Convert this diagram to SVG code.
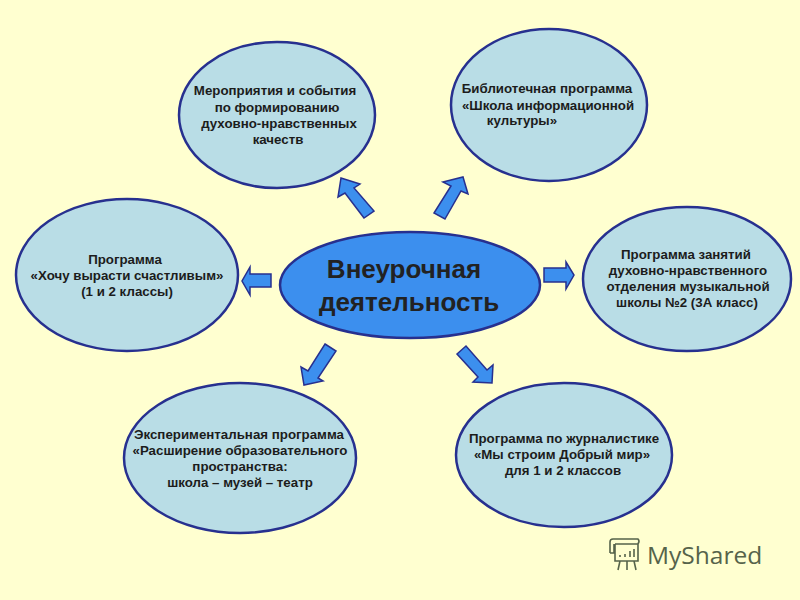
<svg xmlns="http://www.w3.org/2000/svg" width="800" height="600" viewBox="0 0 800 600">
<style>
.n{fill:#b9dde6;stroke:#27308f;stroke-width:2.5}
.c{fill:#3c8fee;stroke:#27308f;stroke-width:2.5}
.a{fill:#3c8fee;stroke:#27308f;stroke-width:1.5;stroke-linejoin:miter}
text{font-family:"Liberation Sans",Arial,sans-serif;font-weight:bold;font-size:13.3px;fill:#1c1c1c;text-anchor:middle}
.t{font-size:26px;fill:#222}
.w{font-family:"Open Sans","Noto Sans",sans-serif;font-weight:normal;font-size:24.5px;fill:#56634a;text-anchor:start}
.l{fill:none;stroke:#56634a;stroke-width:1.6}
</style>
<rect width="800" height="600" fill="#ffffd0"/>
<g id="connectors">
<polygon class="a" points="364,218 345,193 338,197 341,178 360,184 354,188 374,211"/>
<polygon class="a" points="445,219 461,191 468,194 463,177 443,182 451,186 434,213"/>
<polygon class="a" points="544,268 566,268 566,262 574,275 566,289 566,282 544,282"/>
<polygon class="a" points="271,274 250,274 250,267 242,281 250,295 250,287 271,287"/>
<polygon class="a" points="325,344 336,351 318,378 323,381 304,385 301,367 308,371"/>
<polygon class="a" points="457,354 466,346 487,370 493,365 492,383 473,382 478,377"/>
</g>
<g id="center"><ellipse class="c" cx="410" cy="285" rx="130" ry="53"/>
<text class="t" x="404" y="278">Внеурочная</text><text class="t" x="409" y="311">деятельность</text></g>
<g id="node-events"><ellipse class="n" cx="277" cy="115" rx="98" ry="73"/>
<text x="275" y="95">Мероприятия и события</text><text x="277" y="112">по формированию</text><text x="279" y="128">духовно-нравственных</text><text x="278" y="144">качеств</text></g>
<g id="node-library"><ellipse class="n" cx="549" cy="105" rx="98" ry="76"/>
<text x="547" y="93">Библиотечная программа</text><text x="548" y="110">«Школа информационной</text><text x="522" y="125">культуры»</text></g>
<g id="node-happy"><ellipse class="n" cx="127" cy="275" rx="111" ry="76"/>
<text x="125" y="264">Программа</text><text x="127" y="280">«Хочу вырасти счастливым»</text><text x="127" y="296">(1 и 2 классы)</text></g>
<g id="node-music"><ellipse class="n" cx="687" cy="279" rx="104" ry="72"/>
<text x="686" y="259">Программа занятий</text><text x="688" y="275">духовно-нравственного</text><text x="688" y="291">отделения музыкальной</text><text x="687" y="307">школы №2 (3А класс)</text></g>
<g id="node-experiment"><ellipse class="n" cx="240" cy="458" rx="116" ry="75"/>
<text x="239" y="439">Экспериментальная программа</text><text x="240" y="455">«Расширение образовательного</text><text x="240" y="471">пространства:</text><text x="240" y="487">школа – музей – театр</text></g>
<g id="node-journal"><ellipse class="n" cx="564" cy="455" rx="108" ry="72"/>
<text x="564" y="443">Программа по журналистике</text><text x="562" y="459">«Мы строим Добрый мир»</text><text x="563" y="475">для 1 и 2 классов</text></g>
<g id="watermark">
<path class="l" d="M610 553V542Q610 539 613 539H638Q640 541 638 544H615M610 553H614V544M615 544V561H638V544M620 561l-2 9M627 561v9M634 561l2 9"/>
<path class="l" d="M620 557v-2M625 557v-3M630 557v-6M634 557v-8"/>
<text class="w" x="647" y="564">MyShared</text></g>
</svg>
